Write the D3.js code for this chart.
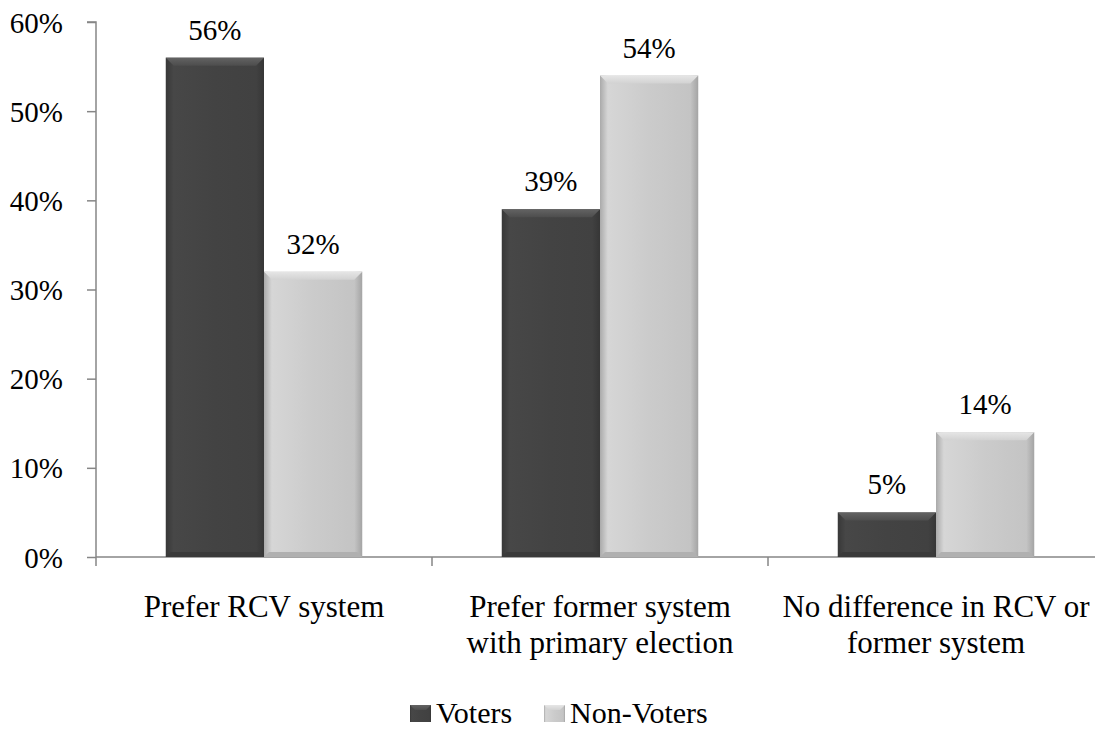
<!DOCTYPE html>
<html>
<head>
<meta charset="utf-8">
<script src="https://cdn.jsdelivr.net/npm/d3@7"></script>
<style>
  body { margin: 0; background: #fff; }
  text { font-family: "Liberation Serif", "Times New Roman", serif; fill: #000; }
</style>
</head>
<body>
<svg id="chart" width="1095" height="730"></svg>
<script>
// Data
const categories = [
  ["Prefer RCV system"],
  ["Prefer former system", "with primary election"],
  ["No difference in RCV or", "former system"]
];
const seriesNames = ["Voters", "Non-Voters"];
const voters = [56, 39, 5];
const nonVoters = [32, 54, 14];
const yTicks = [0, 10, 20, 30, 40, 50, 60];

const colors = { "Voters": "#434343", "Non-Voters": "#cbcbcb" };

const svg = d3.select('#chart');
const defs = svg.append('defs');

const plot = { left: 96, top: 22, bottom: 557, right: 1104 };

const x = d3.scaleBand()
    .domain(d3.range(categories.length))
    .range([plot.left, plot.right])
    .paddingInner(0)
    .paddingOuter(0);

const x1 = d3.scaleBand()
    .domain(seriesNames)
    .range([0, x.bandwidth()])
    .paddingOuter(0.71);

const y = d3.scaleLinear()
    .domain([0, 60])
    .range([plot.bottom, plot.top]);

// gradients for the bevel look
seriesNames.forEach((s, i) => {
    const base = d3.color(colors[s]);
    const g = defs.append('linearGradient').attr('id', 'side' + i)
        .attr('x1', 0).attr('x2', 1).attr('y1', 0).attr('y2', 0);
    g.append('stop').attr('offset', 0).attr('stop-color', base.darker(0.5));
    g.append('stop').attr('offset', 0.08).attr('stop-color', base.brighter(0.15));
    g.append('stop').attr('offset', 0.5).attr('stop-color', base);
    g.append('stop').attr('offset', 0.92).attr('stop-color', base.darker(0.1));
    g.append('stop').attr('offset', 1).attr('stop-color', base.darker(0.6));

    const t = defs.append('linearGradient').attr('id', 'top' + i)
        .attr('x1', 0).attr('x2', 0).attr('y1', 0).attr('y2', 1);
    t.append('stop').attr('offset', 0).attr('stop-color', base.brighter(i === 0 ? 1.1 : 0.35));
    t.append('stop').attr('offset', 1).attr('stop-color', base.brighter(i === 0 ? 0.4 : 0.1));
});

// Y axis
const yAxis = svg.append('g')
    .attr('transform', `translate(${plot.left},0)`)
    .call(d3.axisLeft(y).tickValues(yTicks).tickSize(9).tickFormat(d => d + '%'));
yAxis.select('.domain').attr('stroke', '#868686').attr('stroke-width', 1.5)
    .attr('d', `M-9,${plot.top}H0V${plot.bottom}`);
yAxis.selectAll('.tick line').attr('stroke', '#868686').attr('stroke-width', 1.5);
yAxis.selectAll('.tick text')
    .attr('x', -33)
    .attr('dy', '0.35em')
    .style('font-size', '29px')
    .style('font-family', '"Liberation Serif", serif');

// X axis
const xg = svg.append('g');
xg.append('line')
    .attr('x1', plot.left).attr('x2', plot.right)
    .attr('y1', plot.bottom).attr('y2', plot.bottom)
    .attr('stroke', '#868686').attr('stroke-width', 1.5);
xg.selectAll('.xtick')
    .data(d3.range(categories.length + 1))
    .join('line')
    .attr('x1', i => plot.left + i * x.bandwidth())
    .attr('x2', i => plot.left + i * x.bandwidth())
    .attr('y1', plot.bottom).attr('y2', plot.bottom + 9)
    .attr('stroke', '#868686').attr('stroke-width', 1.5);

// Bars
const rows = [];
categories.forEach((c, i) => {
    rows.push({ cat: i, series: "Voters", si: 0, value: voters[i] });
    rows.push({ cat: i, series: "Non-Voters", si: 1, value: nonVoters[i] });
});

const bars = svg.append('g').selectAll('g.bar')
    .data(rows)
    .join('g')
    .attr('class', 'bar')
    .attr('transform', d => `translate(${x(d.cat) + x1(d.series)},${y(d.value)})`);

bars.append('rect')
    .attr('width', x1.bandwidth())
    .attr('height', d => y(0) - y(d.value))
    .attr('fill', d => `url(#side${d.si})`);

// top bevel
bars.append('path')
    .attr('d', d => {
        const w = x1.bandwidth(), b = Math.min(8, (y(0) - y(d.value)) / 3);
        return `M0,0H${w}L${w - b},${b}H${b}Z`;
    })
    .attr('fill', d => `url(#top${d.si})`);

// bottom bevel
bars.append('path')
    .attr('d', d => {
        const w = x1.bandwidth(), h = y(0) - y(d.value), b = Math.min(5, h / 4);
        return `M0,${h}H${w}L${w - b},${h - b}H${b}Z`;
    })
    .attr('fill', d => d3.color(colors[d.series]).darker(0.4));

// value labels
bars.append('text')
    .attr('x', x1.bandwidth() / 2)
    .attr('y', -18)
    .attr('text-anchor', 'middle')
    .style('font-size', '29px')
    .text(d => d.value + '%');

// category labels
const catLabels = svg.append('g').selectAll('text')
    .data(categories)
    .join('text')
    .attr('x', (d, i) => x(i) + x.bandwidth() / 2)
    .attr('y', 617)
    .attr('text-anchor', 'middle')
    .style('font-size', '31px');
catLabels.selectAll('tspan')
    .data(d => d)
    .join('tspan')
    .attr('x', function() { return d3.select(this.parentNode).attr('x'); })
    .attr('dy', (d, i) => i === 0 ? 0 : 36)
    .text(d => d);

// legend
const legendX = [410, 544];
const legend = svg.append('g').selectAll('g')
    .data(seriesNames)
    .join('g')
    .attr('transform', (d, i) => `translate(${legendX[i]},705)`);
legend.append('rect')
    .attr('width', 21).attr('height', 17)
    .attr('fill', (d, i) => `url(#side${i})`);
legend.append('path')
    .attr('d', 'M0,0H21L16,5H5Z')
    .attr('fill', (d, i) => `url(#top${i})`);
legend.append('text')
    .attr('x', 26)
    .attr('y', 18)
    .style('font-size', '30px')
    .text(d => d);
</script>
</body>
</html>
